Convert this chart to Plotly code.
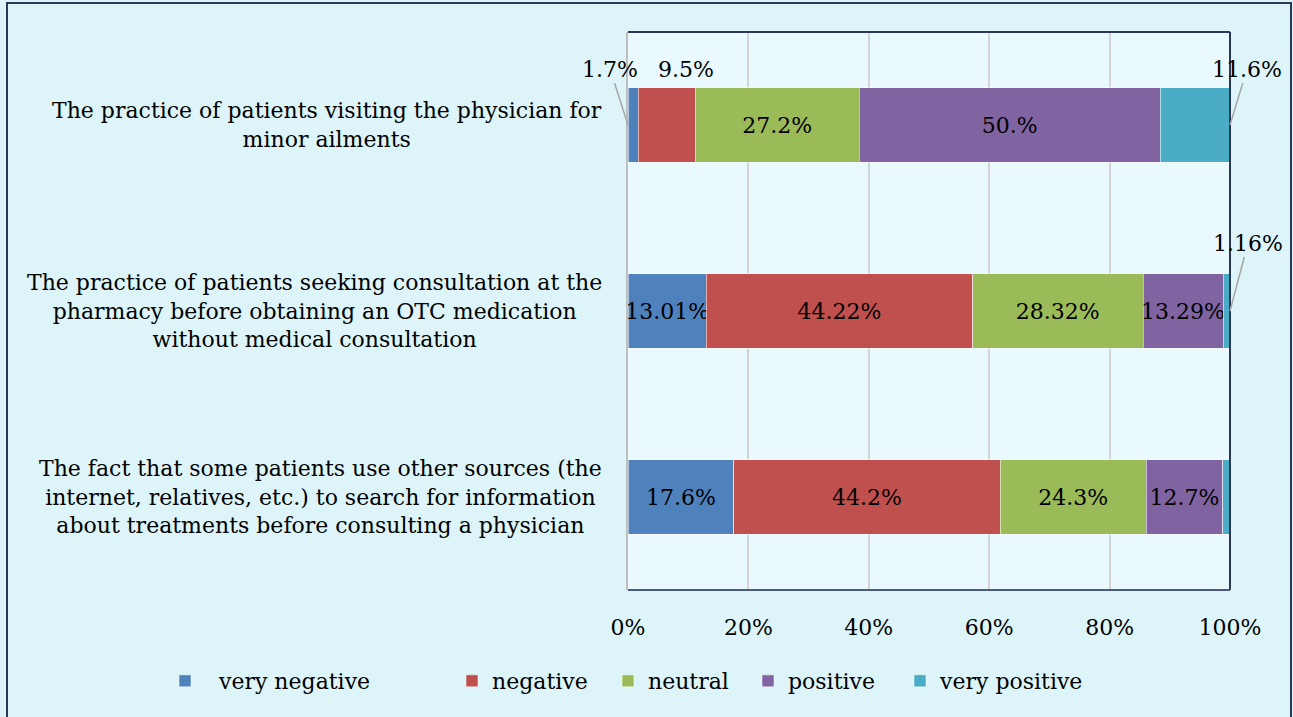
import plotly.graph_objects as go

categories = [
    "The practice of patients visiting the physician for<br>minor ailments",
    "The practice of patients seeking consultation at the<br>pharmacy before obtaining an OTC medication<br>without medical consultation",
    "The fact that some patients use other sources (the<br>internet, relatives, etc.) to search for information<br>about treatments before consulting a physician",
]
series_names = ["very negative", "negative", "neutral", "positive", "very positive"]
very_negative = [1.7, 13.01, 17.6]
negative = [9.5, 44.22, 44.2]
neutral = [27.2, 28.32, 24.3]
positive = [50.0, 13.29, 12.7]
very_positive = [11.6, 1.16, 1.2]

very_negative_labels = ["1.7%", "13.01%", "17.6%"]
negative_labels = ["9.5%", "44.22%", "44.2%"]
neutral_labels = ["27.2%", "28.32%", "24.3%"]
positive_labels = ["50.%", "13.29%", "12.7%"]
very_positive_labels = ["11.6%", "1.16%", "1.2%"]

x_tick_values = [0, 20, 40, 60, 80, 100]
x_tick_labels = ["0%", "20%", "40%", "60%", "80%", "100%"]

values = [very_negative, negative, neutral, positive, very_positive]
labels = [very_negative_labels, negative_labels, neutral_labels, positive_labels, very_positive_labels]
colors = ["#4F81BD", "#C0504D", "#9BBB59", "#8064A2", "#4BACC6"]

# labels drawn outside the bar (series index, category index) -> (anchor, dx, dy, arrow)
outside = {
    (0, 0): ("start", -18, -56, True),
    (1, 0): ("mid", 19, -56, False),
    (4, 0): ("end", 17, -56, True),
    (4, 1): ("end", 18, -68, True),
    (4, 2): ("end", 23, -60, True),
}

FONT = "DejaVu Serif"
W, H = 1293, 717
L, R, T, B = 628, 63, 32, 127

fig = go.Figure()
legend_px = [187, 474, 630, 770, 922]
legend_names = ["\u00a0\u00a0very negative", "negative", "neutral", "positive", "very positive"]
for i, (name, vals, labs, col) in enumerate(zip(series_names, values, labels, colors)):
    txt = [("" if (i, j) in outside else labs[j]) for j in range(len(categories))]
    fig.add_trace(go.Bar(
        y=categories, x=vals, orientation="h", name=legend_names[i],
        marker=dict(color=col, line=dict(color="rgba(255,255,255,0.55)", width=1)),
        text=txt, textposition="inside", insidetextanchor="middle",
        textfont=dict(family=FONT, size=22, color="black"),
        constraintext="none", cliponaxis=False,
        width=0.4, hoverinfo="skip",
        legend="legend" if i == 0 else f"legend{i+1}",
    ))

annotations = []
for (i, j), (anc, dx, dy, arrow) in outside.items():
    start = sum(values[k][j] for k in range(i))
    end = start + values[i][j]
    xpos = {"start": start, "end": end, "mid": (start + end) / 2}[anc]
    if arrow:
        annotations.append(dict(
            x=xpos, y=categories[j], xref="x", yref="y", text=labels[i][j],
            showarrow=True, ax=dx, ay=dy, arrowhead=0, arrowwidth=1.5,
            arrowcolor="#A6A6A6", standoff=0, startstandoff=0,
            font=dict(family=FONT, size=22, color="black"),
        ))
    else:
        annotations.append(dict(
            x=xpos, y=categories[j], xref="x", yref="y", text=labels[i][j],
            showarrow=False, xshift=dx, yshift=-dy,
            font=dict(family=FONT, size=22, color="black"),
        ))

for j, cat in enumerate(categories):
    annotations.append(dict(
        x=0, y=cat, xref="paper", yref="y", text=cat, showarrow=False,
        xanchor="right", yanchor="middle", align="center", xshift=-24,
        font=dict(family=FONT, size=22, color="black"),
    ))

shapes = [
    dict(type="line", xref="paper", yref="paper", x0=0, x1=1, y0=1, y1=1,
         line=dict(color="#2B3856", width=2)),
    dict(type="line", xref="paper", yref="paper", x0=1, x1=1, y0=0, y1=1,
         line=dict(color="#2B3856", width=2)),
    dict(type="line", xref="paper", yref="paper", x0=0, x1=1, y0=0, y1=0,
         line=dict(color="#4A5A80", width=2)),
    dict(type="rect", xref="paper", yref="paper",
         x0=(7 - L) / (W - L - R), x1=(1291 - L) / (W - L - R),
         y0=(H - B - 722) / (H - T - B), y1=(H - B - 3) / (H - T - B),
         line=dict(color="#2B3856", width=2), fillcolor="rgba(0,0,0,0)", layer="below"),
]

legend_common = dict(
    orientation="h", xref="container", yref="container", yanchor="middle",
    xanchor="left", bgcolor="rgba(0,0,0,0)",
    font=dict(family=FONT, size=22, color="black"),
)
legends = {}
for i, px in enumerate(legend_px):
    key = "legend" if i == 0 else f"legend{i+1}"
    legends[key] = dict(legend_common, x=(px - 22) / W, y=(H - 681) / H)

fig.update_layout(
    width=W, height=H, barmode="stack",
    margin=dict(l=L, r=R, t=T, b=B, autoexpand=False),
    paper_bgcolor="#DDF4F9", plot_bgcolor="#EAF9FD",
    xaxis=dict(range=[0, 100], tickmode="array", tickvals=x_tick_values, ticktext=x_tick_labels,
               showgrid=True, gridcolor="#D4D4D4", gridwidth=1.5, zeroline=False, showline=False,
               ticks="", ticklabelstandoff=22,
               tickfont=dict(family=FONT, size=22, color="black"), fixedrange=True),
    yaxis=dict(categoryorder="array", categoryarray=categories, autorange="reversed",
               showticklabels=False, showgrid=False, zeroline=False,
               showline=True, linecolor="#BFBFBF", linewidth=2, ticks="", fixedrange=True),
    annotations=annotations, shapes=shapes, showlegend=True,
    **legends,
)

fig.write_html("out.html", config={"displayModeBar": False},
               post_script="document.body.style.margin='0';document.body.style.overflow='hidden';")
